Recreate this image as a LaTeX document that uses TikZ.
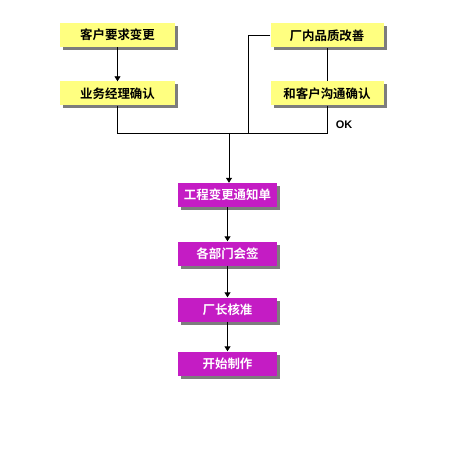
\documentclass[tikz,border=0pt]{standalone}
\usepackage{fontspec}
\setmainfont{Liberation Sans}
\newfontfamily\cjk{Noto Sans CJK SC}[BoldFont=* Bold]
\usepackage{tikz}
\usetikzlibrary{arrows.meta,positioning,calc,shadows}
\definecolor{noteyellow}{RGB}{255,255,128}
\definecolor{stepmagenta}{RGB}{196,28,196}
\definecolor{shadowgrey}{RGB}{70,70,70}

\begin{document}
\begin{tikzpicture}[x=1bp, y=-1bp, font=\cjk\bfseries\fontsize{12.5}{14}\selectfont,
    yb/.style={fill=noteyellow, minimum width=115bp, minimum height=24bp, inner sep=0pt,
               general shadow={shadow xshift=3bp, shadow yshift=-3bp, fill=shadowgrey, opacity=0.7}},
    mb/.style={fill=stepmagenta, text=white, minimum width=99bp, minimum height=24bp, inner sep=0pt,
               general shadow={shadow xshift=3bp, shadow yshift=-3bp, fill=shadowgrey, opacity=0.7}},
    ln/.style={draw=black, line width=0.9bp},
    arr/.style={ln, -{Triangle[length=5bp, width=6bp]}}]
\useasboundingbox (0,0) rectangle (470,450);
% left branch
\node[yb] (req) at (117.5,35) {客户要求变更};
\node[yb] (mgr) at (117.5,93.5) {业务经理确认};
% right branch
\node[yb, minimum width=113bp] (qual) at (327,35.5) {厂内品质改善};
\node[yb, minimum width=113bp] (cust) at (327,93.5) {和客户沟通确认};
\node[font=\bfseries\fontsize{11}{12}\selectfont] (ok) at (344,124.5) {OK};
% main chain
\node[mb] (ecn) at (227.5,195) {工程变更通知单};
\node[mb] (sign) at (227.5,253.5) {各部门会签};
\node[mb] (boss) at (227.5,309.5) {厂长核准};
\node[mb] (make) at (227.5,363.5) {开始制作};
\coordinate (j) at (229,133);
\coordinate (k) at (248,133);
\draw[arr] (req) -- (mgr);
\draw[ln] (qual) -- (cust);
\draw[ln] (mgr.south) |- (j);
\draw[ln] (cust.south) |- (j);
\draw[ln] (qual.west) -| (k);
\draw[arr] (j) -- (ecn.north -| j);
\draw[arr] (ecn) -- (sign);
\draw[arr] (sign) -- (boss);
\draw[arr] (boss) -- (make);
\end{tikzpicture}
\end{document}
